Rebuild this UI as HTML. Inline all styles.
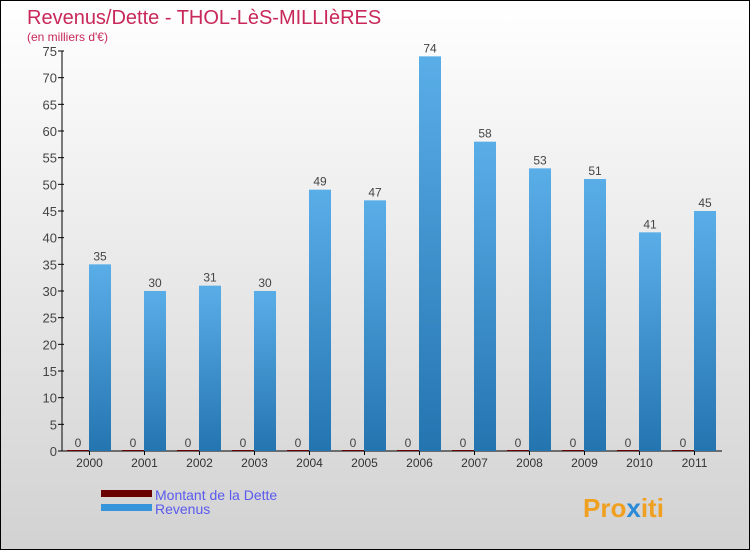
<!DOCTYPE html>
<html><head><meta charset="utf-8"><style>
body{margin:0}
#c{position:relative;width:750px;height:550px;box-sizing:border-box;border:1px solid #000;background:linear-gradient(#fff,#d2d2d2);font-family:"Liberation Sans",sans-serif;overflow:hidden}
</style></head><body>
<div id="c">
<svg width="748" height="548" style="position:absolute;left:0;top:0" id="s">
<defs><linearGradient id="g" x1="0" y1="0" x2="0" y2="1"><stop offset="0" stop-color="#5aaee8"/><stop offset="1" stop-color="#2474b0"/></linearGradient></defs>
<text x="26" y="23" font-size="20" fill="#c8285a">Revenus/Dette - THOL-LèS-MILLIèRES</text>
<text x="26" y="40" font-size="12" fill="#c8285a">(en milliers d'€)</text>
<g id="plot"></g>
<rect x="100" y="489" width="51" height="7" fill="#6a0000"/>
<rect x="100" y="503" width="51" height="7" fill="#3594da"/>
<text x="154" y="499" font-size="14" fill="#5a5aee">Montant de la Dette</text>
<text x="154" y="513" font-size="14" fill="#5a5aee">Revenus</text>
<text x="582" y="516" font-size="26" font-weight="bold" fill="#f0a020">Pro<tspan fill="#2a8ad8">x</tspan>iti</text>
</svg>
</div>
<script>
const years=["2000","2001","2002","2003","2004","2005","2006","2007","2008","2009","2010","2011"];
const dette=[0,0,0,0,0,0,0,0,0,0,0,0];
const revenus=[35,30,31,30,49,47,74,58,53,51,41,45];
const ticks=[0,5,10,15,20,25,30,35,40,45,50,55,60,65,70,75];
const NS="http://www.w3.org/2000/svg";
const p=document.getElementById('plot');
const X0=61,Y0=450,GW=55,K=400/75;
const y=v=>Y0-v*K;
function mk(t,a,txt){const e=document.createElementNS(NS,t);for(const k in a)e.setAttribute(k,a[k]);if(txt!==undefined)e.textContent=txt;p.appendChild(e);return e;}
let e=mk('line',{x1:X0,y1:y(75),x2:X0,y2:Y0,stroke:'#000'});


e=mk('line',{x1:X0,y1:Y0,x2:X0+GW*years.length,y2:Y0,stroke:'#000'});


ticks.forEach(t=>{
 e=mk('line',{x1:X0-4,y1:y(t),x2:X0+2,y2:y(t),stroke:'#000'});
 
 
 e=mk('text',{x:X0-5,y:y(t)+5,'font-size':13,fill:'#444','text-anchor':'end'},t);
 
 
});
years.forEach((yr,i)=>{
 const s=X0+GW*i;
 e=mk('line',{x1:s+27.5,y1:Y0,x2:s+27.5,y2:Y0+4,stroke:'#000'});
 
 
 e=mk('text',{x:s+27.5,y:Y0+16,'font-size':12,fill:'#333','text-anchor':'middle'},yr);
 
 
 const hd=Math.max(dette[i]*K,1);
 e=mk('rect',{x:s+5,y:Y0-hd,width:22,height:hd,fill:'#6a0000'});
 
 
 e=mk('text',{x:s+16,y:y(dette[i])-4,'font-size':12,fill:'#444','text-anchor':'middle'},dette[i]);
 
 
 e=mk('rect',{x:s+27,y:y(revenus[i]),width:22,height:revenus[i]*K,fill:'url(#g)'});
 
 
 e=mk('text',{x:s+38,y:y(revenus[i])-4,'font-size':12,fill:'#444','text-anchor':'middle'},revenus[i]);
 
 
});
</script>
</body></html>
